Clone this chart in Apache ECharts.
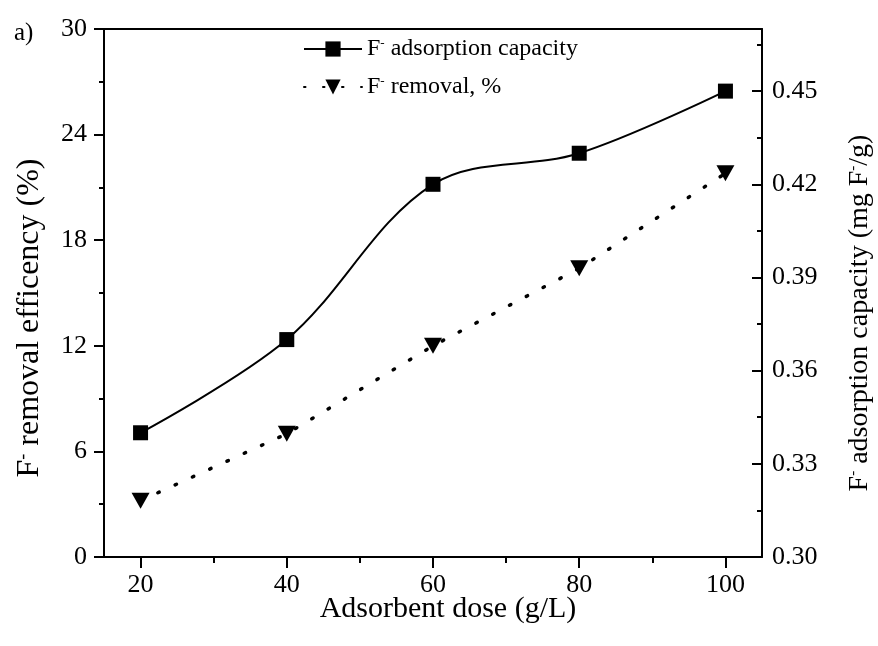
<!DOCTYPE html>
<html>
<head>
<meta charset="utf-8">
<script src="https://cdn.jsdelivr.net/npm/echarts@6/dist/echarts.min.js"></script>
<style>
html,body{margin:0;padding:0;background:#fff;}
#chart{width:878px;height:646px;}
</style>
</head>
<body>
<div id="chart"></div>
<script>
// ---- data ----
const dose = [20, 40, 60, 80, 100];
const removalPct = [3.2, 7.0, 12.0, 16.4, 21.8];          // left axis (%)
const adsorptionCap = [0.340, 0.370, 0.420, 0.430, 0.450]; // right axis (mg F-/g)
const xMajorTicks = [20, 40, 60, 80, 100];
const xMinorTicks = [30, 50, 70, 90];

const FONT = 'Liberation Serif';
const nameCap = 'F- adsorption capacity';
const nameRem = 'F- removal, %';

function richSet(size) {
  return {
    n: {fontFamily: FONT, fontSize: size, color: '#000'},
    s: {fontFamily: FONT, fontSize: Math.round(size * 0.55), color: '#000', verticalAlign: 'top', lineHeight: Math.round(size * 0.75)}
  };
}

const chart = echarts.init(document.getElementById('chart'), null, {renderer: 'canvas'});

const axisLineStyle = {color: '#000', width: 2};
const labelStyle = {fontFamily: FONT, fontSize: 26, color: '#000'};

chart.setOption({
  animation: false,
  backgroundColor: '#fff',
  title: {
    text: 'a)', left: 9, top: 16,
    textStyle: {fontFamily: FONT, fontSize: 25, fontWeight: 'normal', color: '#000'}
  },
  legend: {
    orient: 'vertical', left: 298, top: 32,
    itemWidth: 58, itemHeight: 19, itemGap: 14,
    data: [nameCap, nameRem],
    formatter: function (name) {
      return '{n|F}{s|-}{n|' + name.slice(2) + '}';
    },
    textStyle: {fontFamily: FONT, fontSize: 24, color: '#000', rich: richSet(24)}
  },
  grid: {left: 104, right: 116, top: 29, bottom: 89, containLabel: false, outerBoundsMode: 'none'},
  xAxis: [
    {
      type: 'value', position: 'bottom', min: 15, max: 105,
      name: 'Adsorbent dose (g/L)', nameLocation: 'middle', nameGap: 37, nameMoveOverlap: false,
      nameTextStyle: {fontFamily: FONT, fontSize: 30, color: '#000', padding: [0, 0, 0, 30]},
      axisLine: {show: true, lineStyle: axisLineStyle},
      axisTick: {show: true, inside: false, length: 11, lineStyle: {color: '#000', width: 2}, customValues: xMajorTicks},
      axisLabel: {show: true, margin: 15, customValues: xMajorTicks, ...labelStyle},
      splitLine: {show: false}
    },
    {
      type: 'value', position: 'bottom', min: 15, max: 105,
      axisLine: {show: false},
      axisTick: {show: true, inside: false, length: 6, lineStyle: {color: '#000', width: 2}, customValues: xMinorTicks},
      axisLabel: {show: false},
      splitLine: {show: false}
    },
    {
      type: 'value', position: 'top', min: 15, max: 105,
      axisLine: {show: true, lineStyle: axisLineStyle},
      axisTick: {show: false}, axisLabel: {show: false}, splitLine: {show: false}
    }
  ],
  yAxis: [
    {
      type: 'value', position: 'left', min: 0, max: 30, interval: 6,
      name: '{n|F}{s|-}{n| removal efficency (%)}', nameLocation: 'middle', nameGap: 58, nameMoveOverlap: false,
      nameTextStyle: {rich: richSet(32), padding: [0, 50, 0, 0]},
      axisLine: {show: true, lineStyle: axisLineStyle},
      axisTick: {show: true, inside: false, length: 10, lineStyle: {color: '#000', width: 2}},
      minorTick: {show: true, splitNumber: 2, length: 5, lineStyle: {color: '#000', width: 2}},
      axisLabel: {show: true, margin: 17, ...labelStyle},
      splitLine: {show: false}
    },
    {
      type: 'value', position: 'right', min: 0.30, max: 0.47, interval: 0.03,
      name: '{n|F}{s|-}{n| adsorption capacity (mg F}{s|-}{n|/g)}', nameLocation: 'middle', nameGap: 84, nameMoveOverlap: false,
      nameRotate: 90,
      nameTextStyle: {rich: richSet(28), padding: [0, 40, 0, 0]},
      axisLine: {show: true, lineStyle: axisLineStyle},
      axisTick: {show: true, inside: true, length: 10, lineStyle: {color: '#000', width: 2}},
      axisLabel: {show: true, margin: 10, showMaxLabel: false, ...labelStyle,
        formatter: function (v) { return v.toFixed(2); }},
      splitLine: {show: false}
    },
    {
      type: 'value', position: 'right', min: 0.30, max: 0.47, interval: 0.015,
      axisLine: {show: false},
      axisTick: {show: true, inside: true, length: 5, lineStyle: {color: '#000', width: 2}},
      axisLabel: {show: false},
      splitLine: {show: false}
    }
  ],
  series: [
    {
      name: nameCap, type: 'line', xAxisIndex: 0, yAxisIndex: 1,
      data: dose.map((d, i) => [d, adsorptionCap[i]]),
      smooth: 0.35,
      symbol: 'rect', symbolSize: 15,
      itemStyle: {color: '#000'},
      lineStyle: {color: '#000', width: 2}
    },
    {
      name: nameRem, type: 'line', xAxisIndex: 0, yAxisIndex: 0,
      data: dose.map((d, i) => [d, removalPct[i]]),
      symbol: 'triangle', symbolRotate: 180, symbolSize: [18, 16],
      itemStyle: {color: '#000'},
      lineStyle: {color: '#000', width: 3.5, type: [1.5, 17.5], cap: 'round'}
    }
  ]
});
</script>
</body>
</html>
